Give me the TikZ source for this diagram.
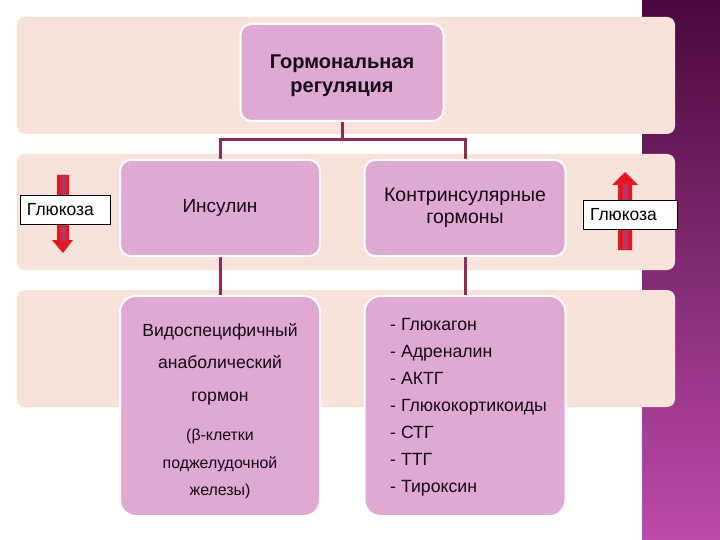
\documentclass[tikz,border=0pt]{standalone}
\usepackage{fontspec}
\setmainfont{Liberation Sans}
\usetikzlibrary{calc}
\definecolor{peach}{HTML}{F8E3DA}
\definecolor{lilac}{HTML}{DFA9D4}
\definecolor{maroon}{HTML}{8A2D52}
\definecolor{bandtop}{HTML}{4A083E}
\definecolor{bandbot}{HTML}{BC4BAA}
\definecolor{arrred}{HTML}{E8161E}
\definecolor{arrmid}{HTML}{A8407E}
\definecolor{ink}{HTML}{140A14}
\begin{document}
\begin{tikzpicture}[x=1pt,y=-1pt,
  band/.style={fill=peach, rounded corners=8pt},
  hbox/.style={draw=white, line width=2pt, fill=lilac, rounded corners=11pt, inner sep=0pt},
  bigbox/.style={hbox, rounded corners=16pt},
  conn/.style={draw=maroon, line width=3pt},
  glabel/.style={draw=black, line width=0.6pt, fill=white, inner ysep=0pt, inner xsep=7pt,
     minimum height=29pt, text width=#1, align=left, font=\fontsize{17.5}{20}\selectfont},
  garrow/.style={fill=arrred},
  gstripe/.style={draw=arrmid, line width=5pt, opacity=0.8},
  txt/.style={text=ink, inner sep=0pt}]
\useasboundingbox (0,0) rectangle (720,540);
% right decorative band
\shade[top color=bandtop, bottom color=bandbot] (642,0) rectangle (720,540);
% peach rows
\path[band] (17,17) rectangle (675,134);
\path[band] (17,154) rectangle (675,270);
\path[band] (17,290) rectangle (675,407);
% boxes
\node[hbox, minimum width=201pt, minimum height=95pt] (top) at (342,72.5) {};
\node[hbox, minimum width=198pt, minimum height=94pt] (ins) at (220,208) {};
\node[hbox, minimum width=199pt, minimum height=94pt] (kon) at (465,208) {};
\node[bigbox, minimum width=198pt, minimum height=218pt] (b3) at (220,406) {};
\node[bigbox, minimum width=199pt, minimum height=218pt] (b4) at (465,406) {};
% connectors
\coordinate (j) at (342,140);
\draw[conn] (top.south) -- (j) -| (ins.north);
\draw[conn] (j) -| (kon.north);
\draw[conn] (ins.south) -- (b3.north);
\draw[conn] (kon.south) -- (b4.north);
% redraw boxes over connector ends
\path[hbox] (top.south west) rectangle (top.north east);
\path[hbox] (ins.south west) rectangle (ins.north east);
\path[hbox] (kon.south west) rectangle (kon.north east);
\path[bigbox] (b3.south west) rectangle (b3.north east);
\path[bigbox] (b4.south west) rectangle (b4.north east);
% texts
\node[txt, align=center, font=\bfseries\fontsize{20}{24}\selectfont] (toptxt) at (342,76) {Гормональная\\регуляция};
\node[txt, font=\fontsize{19}{22}\selectfont] (instxt) at (ins.center) {Инсулин};
\node[txt, align=center, font=\fontsize{19.5}{22}\selectfont] (kontxt) at (kon.center) {Контринсулярные\\гормоны};
\node[txt, align=center, font=\fontsize{17.6}{32.5}\selectfont] (b3a) at (220,364) {Видоспецифичный\\анаболический\\гормон};
\node[txt, align=center, font=\fontsize{15.9}{27.5}\selectfont] (b3b) at (220,464) {(β-клетки\\поджелудочной\\железы)};
\node[txt, align=left, font=\fontsize{17.7}{27}\selectfont, anchor=west] (b4t) at (390,407)
  {- Глюкагон\\- Адреналин\\- АКТГ\\- Глюкокортикоиды\\- СТГ\\- ТТГ\\- Тироксин};
% glucose arrows
\fill[garrow] (57,175) -- (69,175) -- (69,240) -- (73,240) -- (63,253) -- (52,240) -- (57,240) -- cycle;
\draw[gstripe] (63,176) -- (63,242);
\fill[garrow] (618,250) -- (632,250) -- (632,185) -- (638,185) -- (625,172) -- (612,185) -- (618,185) -- cycle;
\draw[gstripe] (625,249) -- (625,184);
% glucose labels
\node[glabel=76pt] (gl) at (65,209.5) {Глюкоза};
\node[glabel=80pt] (gr) at (630,214.5) {Глюкоза};
\end{tikzpicture}
\end{document}
